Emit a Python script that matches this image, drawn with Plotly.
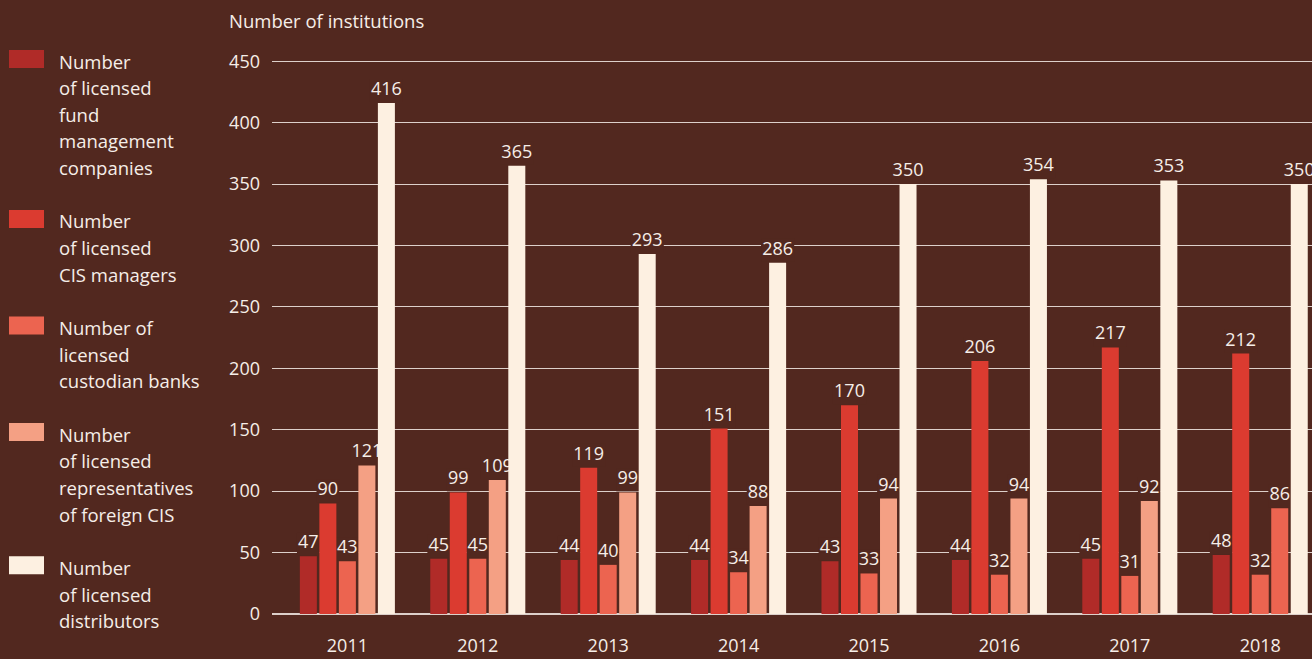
import plotly.graph_objects as go

years = ["2011", "2012", "2013", "2014", "2015", "2016", "2017", "2018"]
fund_mgmt = [47, 45, 44, 44, 43, 44, 45, 48]
cis_managers = [90, 99, 119, 151, 170, 206, 217, 212]
custodian_banks = [43, 45, 40, 34, 33, 32, 31, 32]
foreign_reps = [121, 109, 99, 88, 94, 94, 92, 86]
distributors = [416, 365, 293, 286, 350, 354, 353, 350]

series_names = [
    "Number of licensed fund management companies",
    "Number of licensed CIS managers",
    "Number of licensed custodian banks",
    "Number of licensed representatives of foreign CIS",
    "Number of licensed distributors",
]
legend_lines = [
    ["Number", "of licensed", "fund", "management", "companies"],
    ["Number", "of licensed", "CIS managers"],
    ["Number of", "licensed", "custodian banks"],
    ["Number", "of licensed", "representatives", "of foreign CIS"],
    ["Number", "of licensed", "distributors"],
]
y_ticks = [0, 50, 100, 150, 200, 250, 300, 350, 400, 450]

BG = "#52281F"
TXT = "#F6EEE8"
GRID = "#DDD0CA"
colors = ["#B02B28", "#DB3B30", "#EC6450", "#F4A084", "#FDF0E1"]
FONT = "Open Sans"
LBL_SIZE = 18.5
NUM_SIZE = 18

W, H = 1312, 659
ML, MR, MT, MB = 272, 0, 49, 45
PW, PH = W - ML - MR, H - MT - MB

def px_x(px):
    return (px - ML) / PW

def px_y(py):
    return (H - MB - py) / PH

BARGAP = 0.252
BARGROUPGAP = 0.128

all_series = [fund_mgmt, cis_managers, custodian_banks, foreign_reps, distributors]

fig = go.Figure()
for j, (name, vals) in enumerate(zip(series_names, all_series)):
    cols = [colors[j]] * len(vals)
    if j == 3:
        cols[-1] = colors[2]  # 2018 bar drawn in custodian colour in the original
    fig.add_trace(go.Bar(
        x=years, y=vals, name=name,
        marker=dict(color=cols, line=dict(width=0)),
        text=[str(v) for v in vals], textposition="outside",
        constraintext="none",
        outsidetextfont=dict(family=FONT, size=NUM_SIZE, color=TXT),
        showlegend=False, hoverinfo="x+y+name",
    ))

shapes = []
annotations = []

# background patches behind value labels (interrupt gridlines, sit under bars)
slot = (1 - BARGAP) / len(all_series)
for j, vals in enumerate(all_series):
    off = (j - (len(all_series) - 1) / 2) * slot
    for i, v in enumerate(vals):
        half = 5.2 * len(str(v)) + 1
        shapes.append(dict(
            type="rect", xref="x", yref="y",
            xsizemode="pixel", xanchor=i + off, x0=-half, x1=half,
            ysizemode="pixel", yanchor=v, y0=1, y1=24,
            fillcolor=BG, line=dict(width=0), layer="between",
        ))

# axis title
annotations.append(dict(
    x=px_x(227), y=px_y(20), xref="paper", yref="paper",
    text="Number of institutions", showarrow=False,
    xanchor="left", yanchor="middle",
    font=dict(family=FONT, size=LBL_SIZE, color=TXT),
))

# custom legend
LINE_H = 26.65
k = 0
for j, lines in enumerate(legend_lines):
    y_first = 61 + k * LINE_H
    shapes.append(dict(
        type="rect", xref="paper", yref="paper",
        x0=px_x(9), x1=px_x(44), y0=px_y(y_first - 11), y1=px_y(y_first + 7),
        fillcolor=colors[j], line=dict(width=0), layer="above",
    ))
    for line in lines:
        annotations.append(dict(
            x=px_x(57), y=px_y(61 + k * LINE_H), xref="paper", yref="paper",
            text=line, showarrow=False, xanchor="left", yanchor="middle",
            font=dict(family=FONT, size=LBL_SIZE, color=TXT),
        ))
        k += 1
    k += 1

fig.update_layout(
    width=W, height=H,
    margin=dict(l=ML, r=MR, t=MT, b=MB, pad=0),
    paper_bgcolor=BG, plot_bgcolor=BG,
    barmode="group", bargap=BARGAP, bargroupgap=BARGROUPGAP,
    font=dict(family=FONT, size=NUM_SIZE, color=TXT),
    annotations=annotations, shapes=shapes,
    xaxis=dict(
        type="category", range=[-0.578, 7.397],
        showgrid=False, zeroline=False, showline=False, ticks="",
        tickfont=dict(family=FONT, size=NUM_SIZE, color=TXT),
        ticklabelstandoff=19, fixedrange=True,
    ),
    yaxis=dict(
        range=[0, 460], tickvals=y_ticks, ticktext=[str(t) for t in y_ticks],
        showgrid=True, gridcolor=GRID, gridwidth=1,
        zeroline=True, zerolinecolor=GRID, zerolinewidth=1.5,
        showline=False, ticks="",
        tickfont=dict(family=FONT, size=NUM_SIZE, color=TXT),
        ticklabelstandoff=11, fixedrange=True,
    ),
)

fig.write_html(
    "out.html",
    config={"displayModeBar": False},
    post_script="document.body.style.margin='0';document.body.style.overflow='hidden';",
)
